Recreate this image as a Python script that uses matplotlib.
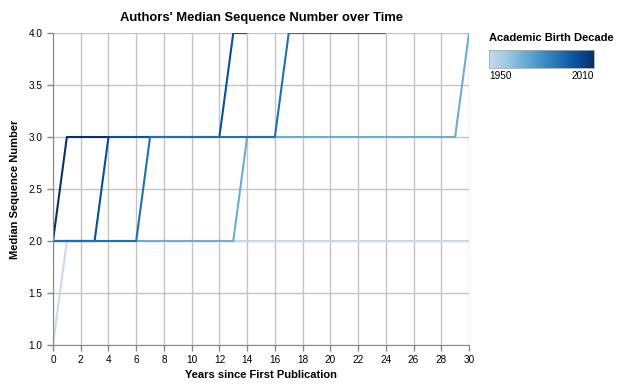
import numpy as np
import matplotlib
matplotlib.use('Agg')
import matplotlib.pyplot as plt
from matplotlib.colors import LinearSegmentedColormap

plt.rcParams['font.family'] = ['Liberation Sans', 'DejaVu Sans']

# data
decades = [1950, 1970, 2000, 2010, 1990]
seq1950 = [1] + [2]*30
seq1970 = [2]*14 + [3]*16 + [4]
seq1990 = [2]*7 + [3]*10 + [4]*8
seq2000 = [2]*4 + [3]*9 + [4]*2
seq2010 = [2] + [3]*4
series = [seq1950, seq1970, seq2000, seq2010, seq1990]

blues = plt.get_cmap('Blues')
cmap = LinearSegmentedColormap.from_list('vblues', blues(np.linspace(0.25, 1.0, 256)))
def col(d):
	return cmap((d-1950)/60.)

fig = plt.figure(figsize=(6.17, 3.86), dpi=100)
ax = fig.add_axes([53/617., 1-345/386., 416/617., 312/386.])

for d, s in zip(decades, series):
	ax.plot(np.arange(len(s)), s, color=col(d), lw=1.5, solid_capstyle='butt')

ax.set_xlim(0, 30)
ax.set_ylim(1.0, 4.0)
ax.set_xticks(np.arange(0, 31, 2))
ax.set_yticks(np.arange(1.0, 4.01, 0.5))
ax.set_yticklabels(['%.1f' % v for v in np.arange(1.0, 4.01, 0.5)])
ax.grid(True, color='#c4c4c4', lw=1.0)
ax.set_axisbelow(True)
for sp in ['top', 'right']:
	ax.spines[sp].set_visible(False)
for sp in ['left', 'bottom']:
	ax.spines[sp].set_color('#888888')
ax.tick_params(colors='#888888', labelcolor='black', labelsize=7.2, length=4, width=1)
ax.set_xlabel('Years since First Publication', fontsize=8, fontweight='bold', labelpad=3)
ax.set_ylabel('Median Sequence Number', fontsize=8, fontweight='bold', labelpad=6)
ax.set_title("Authors' Median Sequence Number over Time", fontsize=9.4, fontweight='bold', pad=9)

# colour legend
cax = fig.add_axes([489/617., 1-68/386., 105/617., 18/386.])
cax.imshow(np.linspace(0, 1, 256)[None, :], aspect='auto', cmap=cmap)
cax.set_xticks([])
cax.set_yticks([])
for sp in cax.spines.values():
	sp.set_color('#aaaaaa')
	sp.set_linewidth(0.6)
fig.text(489/617., 1-38/386., 'Academic Birth Decade', fontsize=8, fontweight='bold', va='center', ha='left')
fig.text(489/617., 1-76/386., '1950', fontsize=7.2, va='center', ha='left')
fig.text(594/617., 1-76/386., '2010', fontsize=7.2, va='center', ha='right')

fig.savefig('out.png', dpi=100)
